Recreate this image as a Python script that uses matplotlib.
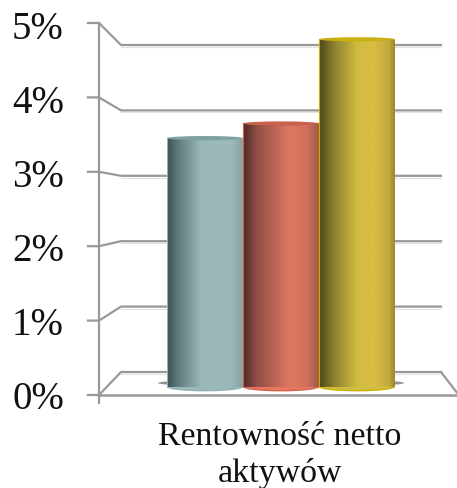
import numpy as np
from matplotlib import pyplot as plt
from matplotlib.colors import LinearSegmentedColormap
from matplotlib.patches import Ellipse, Rectangle

# dane wykresu
kategoria = "Rentowność netto\naktywów"
wartosci = [3.4, 3.6, 4.75]
etykiety_y = ["0%", "1%", "2%", "3%", "4%", "5%"]
poziomy_y = [0, 1, 2, 3, 4, 5]

W, H = 457, 489
SZARY = "#989898"
FONT = "Liberation Serif"

# kolory gradientow walcow: (pozycja, kolor)
gradienty = [
    [(0, "#3d5256"), (0.14, "#5f7a7c"), (0.45, "#9ab8b8"), (0.85, "#9cbaba"), (1, "#86a3a3")],
    [(0, "#4e2a26"), (0.18, "#8f5046"), (0.62, "#e27762"), (0.85, "#cf6f5c"), (1, "#a05a4c")],
    [(0, "#4d4817"), (0.2, "#8c8130"), (0.5, "#d0bc40"), (0.72, "#dabc45"), (0.92, "#c2ab3c"), (1, "#9a8830")],
]
obrysy = ["#93b3b3", "#d65f49", "#cbb000"]
gora = ["#7fa0a0", "#c9614e", "#c9b010"]

plt.rcParams['font.family'] = [FONT, 'DejaVu Serif']
fig = plt.figure(figsize=(W / 100, H / 100), dpi=100)

# rama wykresu w pikselach obrazka
ax = fig.add_axes([0, 0, 1, 1])
ax.set_xlim(0, W)
ax.set_ylim(H, 0)
ax.axis("off")


def y_przod(v):
    return 396 - v * 74.4


def y_tyl(v):
    return 373 - v * 65.4


for v, txt in zip(poziomy_y, etykiety_y):
    yp = y_przod(v)
    yt = y_tyl(v)
    ax.plot([88, 99, 121, 441], [yp, yp, yt, yt], color=SZARY, lw=1.6, zorder=1,
            solid_joinstyle="round")
    ax.plot([121, 441], [yt + 2, yt + 2], color="#e2e2e2", lw=0.8, zorder=0.9)
    ax.text(64, 409 - 74 * v, txt, ha="right", va="baseline", fontsize=28, color="#111111")

ax.plot([99, 99], [y_przod(5), 404], color=SZARY, lw=1.6, zorder=1)
ax.plot([99, 457], [396, 396], color=SZARY, lw=1.8, zorder=1)
ax.plot([441, 458], [373, 395], color=SZARY, lw=1.6, zorder=1)
ax.text(280, 445, kategoria.split("\n")[0], ha="center", va="baseline", fontsize=24.4, color="#111111")
ax.text(280, 482, kategoria.split("\n")[1], ha="center", va="baseline", fontsize=24.4, color="#111111")

# cien pod walcami
ax.add_patch(Ellipse((281, 384), 246, 9, color="#777777", alpha=0.8, lw=0, zorder=1.5))

# walce w osobnych osiach: wartosci 0 przy y=388, 73.2 px na 1%
lewy, prawy = 167, 395
dol = 388
skala = 73.2
gorny = 20
ax2 = fig.add_axes([lewy / W, (H - dol - 8) / H, (prawy - lewy) / W, (dol + 8 - gorny) / H])
ax2.axis("off")
ax2.patch.set_alpha(0)

pol_el = 0.06
for i, v in enumerate(wartosci):
    cmap = LinearSegmentedColormap.from_list("w%d" % i, gradienty[i])
    pas = np.linspace(0, 1, 200).reshape(1, -1)
    dno = Ellipse((i, 0), 1, pol_el * 2, color=obrysy[i], lw=0, zorder=2 + i)
    ax2.add_patch(dno)
    im = ax2.imshow(pas, cmap=cmap, extent=(i - 0.5, i + 0.5, -0.05, v), aspect="auto",
                    zorder=2.1 + i)
    klip = Rectangle((i - 0.5, 0), 1, v, transform=ax2.transData)
    im.set_clip_path(klip)
    dno2 = Ellipse((i, 0.015), 1, pol_el * 1.9, lw=0, color=gradienty[i][2][1], zorder=2.05 + i)
    ax2.add_patch(dno2)
    pokrywa = Ellipse((i, v), 1, pol_el * 0.95, color=gora[i], lw=0, zorder=2.2 + i)
    ax2.add_patch(pokrywa)
    ax2.plot([i - 0.5, i - 0.5], [0, v], color=obrysy[i], lw=0.8, zorder=2.3 + i)
    ax2.plot([i + 0.5, i + 0.5], [0, v], color=obrysy[i], lw=0.8, zorder=2.3 + i)

ax2.set_xlim(-0.5, 2.5)
ax2.set_ylim(-8 / skala, (dol - gorny) / skala)

fig.savefig("out.png", dpi=100)
